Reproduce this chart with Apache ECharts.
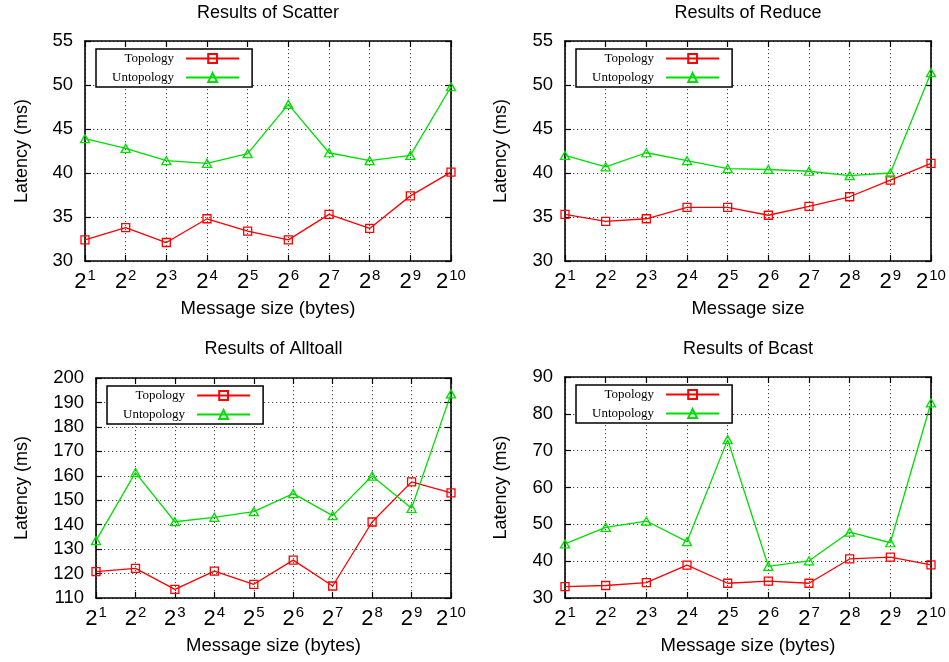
<!DOCTYPE html>
<html>
<head>
<meta charset="utf-8">
<script src="https://cdn.jsdelivr.net/npm/echarts@6/dist/echarts.min.js"></script>
<style>
  html, body { margin: 0; padding: 0; background: #fff; }
  #chart { width: 949px; height: 662px; }
</style>
</head>
<body>
<div id="chart"></div>
<script>
// Message size exponents: 2^1 .. 2^10 bytes
const exponents = ['1', '2', '3', '4', '5', '6', '7', '8', '9', '10'];

// Latency (ms) per collective
const scatterTopology   = [32.4, 33.8, 32.1, 34.8, 33.4, 32.4, 35.3, 33.7, 37.4, 40.1];
const scatterUntopology = [43.9, 42.8, 41.4, 41.1, 42.2, 47.8, 42.3, 41.4, 42.0, 49.8];

const reduceTopology    = [35.3, 34.5, 34.8, 36.1, 36.1, 35.2, 36.2, 37.3, 39.2, 41.1];
const reduceUntopology  = [42.0, 40.7, 42.3, 41.4, 40.5, 40.4, 40.2, 39.7, 40.0, 51.4];

const alltoallTopology   = [120.8, 122.1, 113.5, 121.0, 115.6, 125.5, 114.9, 141.1, 157.5, 153.0];
const alltoallUntopology = [133.5, 161.3, 141.2, 143.0, 145.3, 152.7, 143.7, 159.9, 146.7, 193.5];

const bcastTopology   = [33.1, 33.4, 34.2, 38.9, 34.0, 34.6, 34.0, 40.6, 41.1, 39.0];
const bcastUntopology = [44.7, 49.2, 50.9, 45.3, 73.0, 38.6, 40.1, 47.9, 45.0, 83.0];

const seriesNames = ['Topology', 'Untopology'];

const SANS = '"Liberation Sans", Arial, Helvetica, sans-serif';
const SERIF = '"Liberation Serif", "Times New Roman", serif';

const panels = [
  { title: 'Results of Scatter', xName: 'Message size (bytes)', topo: scatterTopology, untopo: scatterUntopology,
    min: 30, max: 55, interval: 5,
    grid: { left: 85, top: 41, width: 366, height: 220 }, yNameGap: 54 },
  { title: 'Results of Reduce', xName: 'Message size', topo: reduceTopology, untopo: reduceUntopology,
    min: 30, max: 55, interval: 5,
    grid: { left: 565, top: 41, width: 366, height: 220 }, yNameGap: 55 },
  { title: 'Results of Alltoall', xName: 'Message size (bytes)', topo: alltoallTopology, untopo: alltoallUntopology,
    min: 110, max: 200, interval: 10,
    grid: { left: 96, top: 378, width: 355, height: 220 }, yNameGap: 65 },
  { title: 'Results of Bcast', xName: 'Message size (bytes)', topo: bcastTopology, untopo: bcastUntopology,
    min: 30, max: 90, interval: 10,
    grid: { left: 565, top: 377, width: 366, height: 221 }, yNameGap: 55 }
];

const frameLine = { show: true, onZero: false, lineStyle: { color: '#000', width: 1.6 } };
const innerTick = { show: true, inside: true, length: 6, lineStyle: { color: '#000', width: 1.2 } };
const dotted = { show: true, lineStyle: { color: '#444', width: 1, type: [1.2, 2.8] } };

const option = {
  backgroundColor: '#fff',
  animation: false,
  grid: [], xAxis: [], yAxis: [], series: [], legend: [], graphic: []
};

panels.forEach((p, i) => {
  const g = p.grid;
  option.grid.push({ left: g.left, top: g.top, width: g.width, height: g.height, containLabel: false });

  // bottom axis with labels 2^n
  option.xAxis.push({
    type: 'category', gridIndex: i, data: exponents, boundaryGap: false, position: 'bottom',
    axisLine: frameLine, axisTick: innerTick, splitLine: dotted,
    axisLabel: {
      margin: 7, interval: 0,
      formatter: v => '{b|2}{s|' + v + '}',
      rich: {
        b: { fontFamily: SANS, fontSize: 22, color: '#000' },
        s: { fontFamily: SANS, fontSize: 15, color: '#000', padding: [0, 0, 12, 1] }
      }
    },
    name: p.xName, nameLocation: 'middle', nameGap: 38,
    nameTextStyle: { fontFamily: SANS, fontSize: 18.5, color: '#000' }
  });
  // mirrored top frame with inward ticks
  option.xAxis.push({
    type: 'category', gridIndex: i, data: exponents, boundaryGap: false, position: 'top',
    axisLine: frameLine, axisTick: innerTick, axisLabel: { show: false }, splitLine: { show: false }
  });

  option.yAxis.push({
    type: 'value', gridIndex: i, min: p.min, max: p.max, interval: p.interval, position: 'left',
    axisLine: frameLine, axisTick: innerTick, splitLine: dotted,
    axisLabel: { margin: 12, fontFamily: SANS, fontSize: 18.5, color: '#000' },
    name: 'Latency (ms)', nameLocation: 'middle', nameGap: p.yNameGap,
    nameTextStyle: { fontFamily: SANS, fontSize: 18, color: '#000' }
  });
  option.yAxis.push({
    type: 'value', gridIndex: i, min: p.min, max: p.max, interval: p.interval, position: 'right',
    axisLine: frameLine, axisTick: innerTick, axisLabel: { show: false }, splitLine: { show: false }
  });

  option.series.push({
    name: seriesNames[0], type: 'line', xAxisIndex: 2 * i, yAxisIndex: 2 * i, data: p.topo,
    color: '#ff0000', symbol: 'rect', symbolSize: 8, showAllSymbol: true,
    lineStyle: { color: '#ff0000', width: 1.3 },
    itemStyle: { color: 'rgba(255,255,255,0)', borderColor: '#ff0000', borderWidth: 1.3 },
    emphasis: { disabled: true }, z: 3
  });
  option.series.push({
    name: seriesNames[1], type: 'line', xAxisIndex: 2 * i, yAxisIndex: 2 * i, data: p.untopo,
    color: '#00dd00', symbol: 'triangle', symbolSize: [9, 8], showAllSymbol: true,
    lineStyle: { color: '#00dd00', width: 1.3 },
    itemStyle: { color: 'rgba(255,255,255,0)', borderColor: '#00dd00', borderWidth: 1.3 },
    emphasis: { disabled: true }, z: 3
  });

  option.legend.push({
    data: seriesNames, orient: 'vertical', align: 'right',
    left: g.left + 11, top: g.top + 8,
    itemWidth: 53, itemHeight: 11, itemGap: 6,
    padding: [3, 12, 3, 16],
    backgroundColor: '#fff', borderColor: '#000', borderWidth: 1.5,
    selectedMode: false, z: 10,
    textStyle: { fontFamily: SERIF, fontSize: 13, color: '#000', padding: [0, 7, 0, 0] }
  });

  option.graphic.push({
    type: 'text', x: g.left + g.width / 2, y: i < 2 ? 13 : 349,
    style: { text: p.title, font: '18px ' + SANS, fill: '#000', textAlign: 'center', textVerticalAlign: 'middle' }
  });
});

const chart = echarts.init(document.getElementById('chart'), null, { renderer: 'canvas' });
chart.setOption(option);
</script>
</body>
</html>
